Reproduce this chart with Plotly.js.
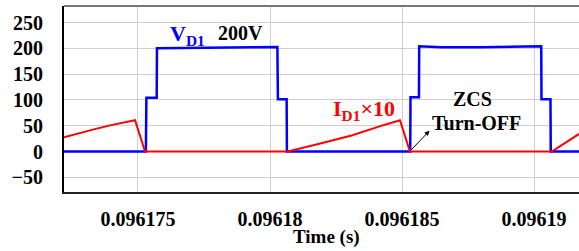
<!DOCTYPE html>
<html>
<head>
<meta charset="utf-8">
<script src="https://cdn.plot.ly/plotly-3.0.1.min.js"></script>
<style>html,body{margin:0;padding:0;background:#fff;}#chart{width:579px;height:251px;}</style>
</head>
<body>
<div id="chart"></div>
<script>
// V_D1 (blue) waveform: time (s) and voltage (V)
const vdTime = [0.0961722, 0.0961753, 0.09617532, 0.09617571, 0.09617572, 0.0961770, 0.0961790, 0.09618028,
  0.0961803, 0.09618063, 0.09618064, 0.09618531, 0.09618532, 0.09618564, 0.09618565, 0.0961865,
  0.0961880, 0.0961895, 0.09619027, 0.09619028, 0.09619062, 0.09619063, 0.0961918];
const vdValue = [0, 0, 104, 104, 200, 200.5, 201.5, 202.5,
  101.5, 101.5, 0, 0, 105, 105, 204, 202,
  202, 203, 204, 101.5, 101.5, 0, 0];

// I_D1 x10 (red) waveform
const idTime = [0.0961722, 0.09617277, 0.0961734, 0.09617403, 0.09617466, 0.09617489, 0.09617527,
  0.09618067, 0.09618183, 0.09618309, 0.09618435, 0.09618492, 0.0961853, 0.09619067, 0.0961917];
const idValue = [27.5, 35.5, 43.8, 51.6, 58, 60.7, 0,
  0, 14.7, 31, 52, 60.5, 0, 0, 34];

const xTicks = [0.096175, 0.09618, 0.096185, 0.09619];
const xTickText = ['0.096175', '0.09618', '0.096185', '0.09619'];
const yTicks = [-50, 0, 50, 100, 150, 200, 250];
const xTitle = 'Time (s)';

const serif = 'Liberation Serif, Times New Roman, Times, serif';

const traces = [
  {x: vdTime, y: vdValue, type: 'scatter', mode: 'lines', line: {color: '#0000ff', width: 2.5}, hoverinfo: 'skip'},
  {x: idTime, y: idValue, type: 'scatter', mode: 'lines', line: {color: '#ff0000', width: 2}, hoverinfo: 'skip'}
];

const layout = {
  width: 579, height: 251,
  margin: {l: 64, r: 0, t: 6, b: 59, pad: 0},
  paper_bgcolor: '#fff', plot_bgcolor: '#fff',
  showlegend: false,
  font: {family: serif, color: '#000'},
  xaxis: {
    range: [0.0961722, 0.0961917],
    tickvals: xTicks, ticktext: xTickText,
    tickfont: {family: serif, size: 20, weight: 'bold', color: '#000'},
    ticks: '', ticklabelstandoff: 8,
    showgrid: true, gridcolor: '#cfcfcf', gridwidth: 1,
    zeroline: false,
    showline: true, linecolor: '#222', linewidth: 2
  },
  yaxis: {
    range: [-78.5, 282],
    tickvals: yTicks,
    tickfont: {family: serif, size: 20, weight: 'bold', color: '#000'},
    ticks: '', ticklabelstandoff: 15,
    showgrid: true, gridcolor: '#cfcfcf', gridwidth: 1,
    zeroline: false,
    showline: true, linecolor: '#000', linewidth: 2
  },
  shapes: [
    {type: 'line', xref: 'paper', yref: 'paper', x0: 0, x1: 1, y0: 1, y1: 1, line: {color: '#777', width: 2}}
  ],
  annotations: [
    {x: 0.5097, y: -0.242, xref: 'paper', yref: 'paper', text: xTitle, showarrow: false, yanchor: 'middle',
     font: {family: serif, size: 19, weight: 'bold', color: '#000'}},
    {x: 0.09617687, y: 226, xref: 'x', yref: 'y', text: 'V<sub>D1</sub>', showarrow: false,
     font: {family: serif, size: 22, weight: 'bold', color: '#0000ff'}},
    {x: 0.09617887, y: 230.6, xref: 'x', yref: 'y', text: '200V', showarrow: false,
     font: {family: serif, size: 20, weight: 'bold', color: '#000'}},
    {x: 0.09618231, y: 80, xref: 'x', yref: 'y', xanchor: 'left', text: 'I<sub>D1</sub>×10', showarrow: false,
     font: {family: serif, size: 22, weight: 'bold', color: '#ff0000'}},
    {x: 0.09618768, y: 100.8, xref: 'x', yref: 'y', text: 'ZCS', showarrow: false,
     font: {family: serif, size: 20, weight: 'bold', color: '#000'}},
    {x: 0.0961878, y: 55.8, xref: 'x', yref: 'y', text: 'Turn-OFF', showarrow: false,
     font: {family: serif, size: 20, weight: 'bold', color: '#000'}},
    {x: 0.09618604, y: 40.3, xref: 'x', yref: 'y', ax: 0.0961853, ay: 0.6, axref: 'x', ayref: 'y',
     text: '', showarrow: true, arrowhead: 2, arrowsize: 1, arrowwidth: 1, arrowcolor: '#000', standoff: 0, startstandoff: 0}
  ]
};

Plotly.newPlot('chart', traces, layout, {staticPlot: true, displayModeBar: false});
</script>
</body>
</html>
